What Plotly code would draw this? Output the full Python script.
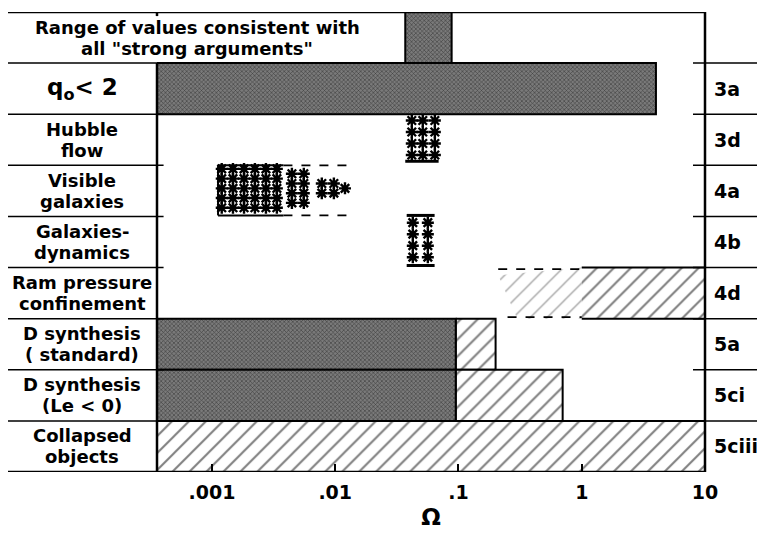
import plotly.graph_objects as go

# ---------------- data ----------------
OMEGA_MIN = 10 ** -3.446
OMEGA_MAX = 10.0

row_labels = [
    ["Range of values consistent with", 'all "strong arguments"'],
    ["q<sub>o</sub>< 2"],
    ["Hubble", "flow"],
    ["Visible", "galaxies"],
    ["Galaxies-", "dynamics"],
    ["Ram pressure", "confinement"],
    ["D synthesis", "( standard)"],
    ["D synthesis", "(Le < 0)"],
    ["Collapsed", "objects"],
]
section_refs = ["", "3a", "3d", "4a", "4b", "4d", "5a", "5ci", "5ciii"]

tick_vals = [0.001, 0.01, 0.1, 1, 10]
tick_text = [".001", ".01", ".1", "1", "10"]

# firm (stippled) ranges
firm_row = [0, 1, 6, 7]
firm_lo = [0.037, OMEGA_MIN, OMEGA_MIN, OMEGA_MIN]
firm_hi = [0.088, 4.0, 0.095, 0.095]

# hatched ranges
hatch_row = [6, 7, 8]
hatch_lo = [0.095, 0.095, OMEGA_MIN]
hatch_hi = [0.2, 0.7, OMEGA_MAX]

# ram pressure: firm hatched part + tentative extension
ram_row = 5
ram_lo = 1.0
ram_hi = OMEGA_MAX
ram_ext_top = 0.21
ram_ext_bot = 0.25

# asterisk blocks: column positions (Omega) and number of asterisks per column
hubble_row = 2
hubble_cols = [0.0418, 0.0513, 0.0643]
hubble_counts = [4, 4, 4]
hubble_bar = [0.037, 0.069]

dyn_row = 4
dyn_cols = [0.0426, 0.0564]
dyn_counts = [4, 4]
dyn_bar = [0.038, 0.064]

vis_row = 3
vis_cols = [0.00120, 0.00148, 0.00182, 0.00223, 0.00274, 0.00336,
            0.00445, 0.00556, 0.00778, 0.00975, 0.0120]
vis_counts = [5, 5, 5, 5, 5, 5, 4, 4, 2, 2, 1]
vis_firm = [0.00112, 0.0038]
vis_ext = [0.0038, 0.0126]

# ---------------- figure ----------------
fig = go.Figure()

stipple = dict(shape='x', fgcolor='black', bgcolor='#7a7a7a', size=3, solidity=0.35)
hatch = dict(shape='/', fgcolor='black', bgcolor='white', size=12, solidity=0.17)
faint = dict(shape='/', fgcolor='#444444', bgcolor='white', size=12, solidity=0.11)


def rect(lo, hi, r):
    return [lo, hi, hi, lo, lo], [r, r, r + 1, r + 1, r]


def add_box(lo, hi, r, pattern, lw=2):
    xs, ys = rect(lo, hi, r)
    fig.add_trace(go.Scatter(x=xs, y=ys, mode='lines', fill='toself',
                             fillcolor='white', fillpattern=pattern,
                             line=dict(color='black', width=lw),
                             hoverinfo='skip', showlegend=False))


def add_line(x0, x1, y, dash='solid', w=2):
    fig.add_trace(go.Scatter(x=[x0, x1], y=[y, y], mode='lines',
                             line=dict(color='black', width=w, dash=dash),
                             hoverinfo='skip', showlegend=False))


for r, lo, hi in zip(hatch_row, hatch_lo, hatch_hi):
    add_box(lo, hi, r, hatch)
for r, lo, hi in zip(firm_row, firm_lo, firm_hi):
    add_box(lo, hi, r, stipple)

# ram pressure
xs, ys = [ram_ext_top, ram_lo, ram_lo, ram_ext_bot + 0.05, ram_ext_top], \
         [ram_row + 0.15, ram_row, ram_row + 1, ram_row + 1, ram_row + 0.15]
fig.add_trace(go.Scatter(x=xs, y=ys, mode='lines', fill='toself', fillcolor='white',
                         fillpattern=faint, line=dict(width=0), hoverinfo='skip',
                         showlegend=False))
xs, ys = rect(ram_lo, ram_hi, ram_row)
fig.add_trace(go.Scatter(x=xs, y=ys, mode='lines', fill='toself', fillcolor='white',
                         fillpattern=hatch, line=dict(width=0), hoverinfo='skip',
                         showlegend=False))
add_line(ram_lo, ram_hi, ram_row)
add_line(ram_lo, ram_hi, ram_row + 1)
add_line(ram_ext_top, ram_lo, ram_row + 0.03, dash='dash', w=1.6)
add_line(ram_ext_bot, ram_lo, ram_row + 0.97, dash='dash', w=1.6)

# visible galaxies frame
add_line(vis_firm[0], vis_firm[1], vis_row + 0.0)
add_line(vis_firm[0], vis_firm[1], vis_row + 0.98)
add_line(vis_ext[0], vis_ext[1], vis_row + 0.0, dash='dash', w=1.6)
add_line(vis_ext[0], vis_ext[1], vis_row + 0.98, dash='dash', w=1.6)
fig.add_trace(go.Scatter(x=[vis_firm[0], vis_firm[0]], y=[vis_row, vis_row + 0.98],
                         mode='lines', line=dict(color='black', width=2),
                         hoverinfo='skip', showlegend=False))

# hubble / dynamics bars
add_line(hubble_bar[0], hubble_bar[1], hubble_row + 0.92, w=3)
add_line(dyn_bar[0], dyn_bar[1], dyn_row - 0.02, w=3)
add_line(dyn_bar[0], dyn_bar[1], dyn_row + 0.96, w=3)

# asterisks
ax, ay = [], []
for cols, counts, r, mid, step in [
        (hubble_cols, hubble_counts, hubble_row, 0.46, 0.225),
        (dyn_cols, dyn_counts, dyn_row, 0.46, 0.225),
        (vis_cols, vis_counts, vis_row, 0.45, 0.19)]:
    for c, n in zip(cols, counts):
        for k in range(n):
            ax.append(c)
            ay.append(r + mid + (k - (n - 1) / 2) * step)
fig.add_trace(go.Scatter(x=ax, y=ay, mode='markers',
                         marker=dict(symbol='asterisk-open', size=10, color='black',
                                     line=dict(color='black', width=2.4)),
                         hoverinfo='skip', showlegend=False))

# ---------------- frame & labels ----------------
XL = (7 - 157) / 548
XR_IN = (693 - 157) / 548
XR_OUT = (765 - 157) / 548
shapes = []
lk = dict(color='black', width=2.5)
ls = dict(color='black', width=1.5)
shapes.append(dict(type='line', xref='paper', yref='y', x0=XL, x1=1, y0=0, y1=0, line=lk))
shapes.append(dict(type='line', xref='paper', yref='y', x0=XL, x1=1, y0=9, y1=9, line=lk))
shapes.append(dict(type='line', xref='paper', yref='y', x0=1, x1=1, y0=0, y1=9, line=lk))
shapes.append(dict(type='line', xref='paper', yref='y', x0=0, x1=0, y0=1, y1=9, line=lk))
shapes.append(dict(type='line', xref='paper', yref='y', x0=0, x1=0, y0=0, y1=0.08, line=lk))
for r in range(1, 9):
    shapes.append(dict(type='line', xref='paper', yref='y', x0=XL, x1=0.012, y0=r, y1=r, line=ls))
    shapes.append(dict(type='line', xref='paper', yref='y', x0=XR_IN, x1=XR_OUT, y0=r, y1=r, line=ls))

FONT = 'DejaVu Sans'
annotations = []
for r, lines in enumerate(row_labels):
    n = len(lines)
    xc = (197 - 157) / 548 if r == 0 else (82 - 157) / 548
    for k, t in enumerate(lines):
        annotations.append(dict(xref='paper', yref='y', x=xc, y=r + 0.5, text=t,
                                showarrow=False, xanchor='center', yanchor='middle',
                                yshift=-(k - (n - 1) / 2) * 21,
                                font=dict(family=FONT, size=23 if n == 1 else 18,
                                          weight='bold', color='black')))
for r, t in enumerate(section_refs):
    if t:
        annotations.append(dict(xref='paper', yref='y', x=(712 - 157) / 548, y=r + 0.5,
                                text=t, showarrow=False, xanchor='left', yanchor='middle',
                                font=dict(family=FONT, size=19, weight='bold', color='black')))

fig.update_layout(
    width=765, height=537,
    margin=dict(l=149, r=68, t=4, b=73),
    paper_bgcolor='white', plot_bgcolor='white',
    shapes=shapes, annotations=annotations,
    xaxis=dict(type='log', range=[-3.446, 1.0], tickvals=tick_vals, ticktext=tick_text,
               ticks='inside', ticklen=8, tickwidth=2, tickcolor='black',
               showgrid=False, zeroline=False, showline=False,
               tickfont=dict(family=FONT, size=19, weight='bold', color='black'),
               ticklabelstandoff=7,
               title=dict(text='Ω', font=dict(family=FONT, size=23, weight='bold',
                                             color='black'),
                          standoff=6)),
    yaxis=dict(range=[9, 0], visible=False, showgrid=False, zeroline=False),
)

fig.write_html("out.html")
